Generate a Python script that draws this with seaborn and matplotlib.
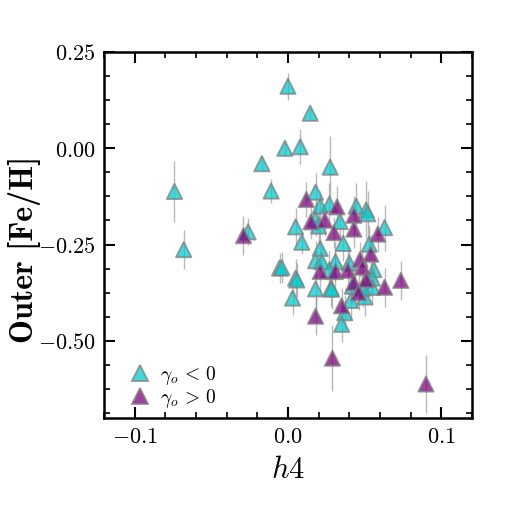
import numpy as np
import pandas as pd
import matplotlib
matplotlib.use("Agg")
import matplotlib.pyplot as plt
import seaborn as sns
from matplotlib.ticker import MultipleLocator, AutoMinorLocator, FuncFormatter

# gamma_o < 0 (cyan)
h4_neg = [-0.074, -0.068, -0.026, 0.000, 0.0145, -0.002, 0.008, -0.017, -0.011, 0.0275,
          0.018, 0.021, 0.027, 0.018, 0.034, 0.0445, 0.051, 0.052, 0.063, 0.005,
          0.020, 0.009, 0.021, 0.036, 0.053, 0.018, 0.022, 0.031, 0.040, -0.0055,
          -0.004, 0.005, 0.0058, 0.027, 0.056, 0.055, 0.042, 0.050, 0.055, 0.018,
          0.028, 0.0285, 0.003, 0.041, 0.037, 0.035, 0.049]
feh_neg = [-0.112, -0.263, -0.217, 0.161, 0.091, 0.000, 0.004, -0.040, -0.111, -0.049,
           -0.114, -0.150, -0.145, -0.184, -0.190, -0.150, -0.160, -0.170, -0.206, -0.204,
           -0.202, -0.244, -0.260, -0.247, -0.249, -0.292, -0.294, -0.294, -0.298, -0.311,
           -0.310, -0.337, -0.342, -0.316, -0.315, -0.337, -0.358, -0.386, -0.361, -0.365,
           -0.363, -0.366, -0.389, -0.395, -0.427, -0.457, -0.363]
err_neg = [0.080, 0.050, 0.035, 0.035, 0.012, 0.020, 0.045, 0.020, 0.030, 0.080,
           0.050, 0.040, 0.055, 0.045, 0.045, 0.060, 0.075, 0.060, 0.060, 0.050,
           0.045, 0.030, 0.050, 0.045, 0.050, 0.050, 0.040, 0.050, 0.045, 0.040,
           0.040, 0.050, 0.045, 0.050, 0.045, 0.040, 0.045, 0.050, 0.045, 0.060,
           0.050, 0.050, 0.045, 0.050, 0.045, 0.045, 0.050]

# gamma_o > 0 (purple)
h4_pos = [-0.029, 0.012, 0.032, 0.015, 0.024, 0.043, 0.043, 0.0586, 0.030, 0.054,
          0.047, 0.0486, 0.021, 0.031, 0.039, 0.051, 0.043, 0.046, 0.063, 0.0736,
          0.035, 0.018, 0.029, 0.090]
feh_pos = [-0.227, -0.133, -0.152, -0.191, -0.187, -0.174, -0.210, -0.223, -0.219, -0.275,
           -0.289, -0.309, -0.320, -0.320, -0.317, -0.341, -0.349, -0.375, -0.361, -0.343,
           -0.409, -0.436, -0.545, -0.612]
err_pos = [0.050, 0.045, 0.055, 0.045, 0.040, 0.050, 0.050, 0.045, 0.040, 0.050,
           0.045, 0.045, 0.050, 0.050, 0.050, 0.055, 0.050, 0.045, 0.050, 0.050,
           0.045, 0.050, 0.085, 0.075]

labels = [r"$\gamma_o \,<\, 0$", r"$\gamma_o \,>\, 0$"]
colors = ["#00CED1", "#800080"]

df = pd.DataFrame({
    "h4": h4_neg + h4_pos,
    "feh": feh_neg + feh_pos,
    "err": err_neg + err_pos,
    "group": [labels[0]] * len(h4_neg) + [labels[1]] * len(h4_pos),
})

sns.set_style("ticks")
plt.rcParams["mathtext.fontset"] = "cm"
plt.rcParams["font.family"] = ["DejaVu Serif"]
plt.rcParams["text.color"] = "black"
plt.rcParams["axes.labelcolor"] = "black"
plt.rcParams["xtick.color"] = "black"
plt.rcParams["ytick.color"] = "black"

fig = plt.figure(figsize=(5.25, 5.25), dpi=100)
ax = fig.add_axes([0.198, 0.204, 0.701, 0.697])

ax.errorbar(df["h4"], df["feh"], yerr=df["err"], fmt="none",
            ecolor="gray", elinewidth=1.0, alpha=0.55, zorder=1)

sns.scatterplot(data=df, x="h4", y="feh", hue="group", hue_order=labels,
                palette=colors, marker="^", s=120, edgecolor="gray",
                linewidth=1.4, alpha=0.75, ax=ax, zorder=2)

ax.set_xlim(-0.12, 0.12)
ax.set_ylim(-0.7, 0.25)
ax.xaxis.set_major_locator(MultipleLocator(0.1))
ax.xaxis.set_minor_locator(AutoMinorLocator(5))
ax.yaxis.set_major_locator(MultipleLocator(0.25))
ax.yaxis.set_minor_locator(AutoMinorLocator(4))
ax.xaxis.set_major_formatter(FuncFormatter(lambda v, p: r"$%.1f$" % (0 if abs(v) < 1e-9 else v)))
ax.yaxis.set_major_formatter(FuncFormatter(lambda v, p: r"$%.2f$" % (0 if abs(v) < 1e-9 else v)))

ax.tick_params(which="both", direction="in", top=True, right=True,
               colors="black", labelcolor="black")
ax.tick_params(which="major", length=8, width=1.5, labelsize=16, pad=6)
ax.tick_params(which="minor", length=4.5, width=1.2)
for spine in ax.spines.values():
    spine.set_linewidth(1.8)
    spine.set_color("black")

ax.set_xlabel(r"$h4$", fontsize=22, color="black")
ax.set_ylabel("Outer [Fe/H]", fontsize=23, fontfamily="cmb10", color="black")
ax.xaxis.set_label_coords(0.5, -0.1, transform=ax.transAxes)
ax.xaxis.label.set_va("top")
ax.yaxis.set_label_coords(-0.172, 0.46, transform=ax.transAxes)

handles, labs = ax.get_legend_handles_labels()
leg = ax.legend(handles, labs, loc="lower left", bbox_to_anchor=(0.035, 0.0),
                frameon=False, fontsize=14, handletextpad=0.2, labelspacing=0.0,
                borderaxespad=0.0, handlelength=1.6)
for t in leg.get_texts():
    t.set_color("black")

fig.savefig("out.png", dpi=100)
